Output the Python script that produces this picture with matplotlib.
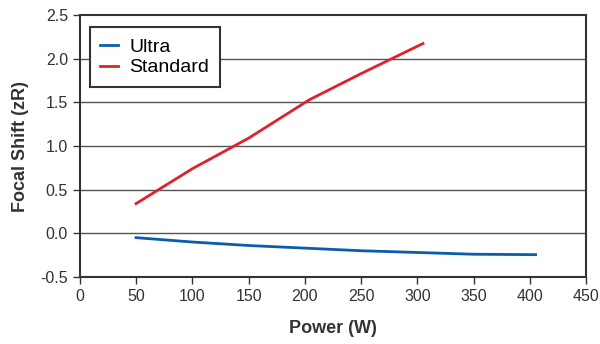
import matplotlib
matplotlib.use('Agg')
import matplotlib.pyplot as plt

plt.rcParams.update({'font.family': ['Liberation Sans', 'DejaVu Sans']})

# data
power_ultra = [50, 100, 150, 200, 250, 300, 350, 405]
shift_ultra = [-0.05, -0.10, -0.14, -0.17, -0.20, -0.22, -0.24, -0.245]
power_std = [50, 100, 150, 204, 250, 305]
shift_std = [0.34, 0.74, 1.09, 1.53, 1.83, 2.175]

xticks = [0, 50, 100, 150, 200, 250, 300, 350, 400, 450]
yticks = [-0.5, 0.0, 0.5, 1.0, 1.5, 2.0, 2.5]

fig = plt.figure(figsize=(6, 3.44), dpi=100)
ax = fig.add_axes([0.133, 0.195, 0.844, 0.761])

for y in yticks[1:-1]:
    ax.axhline(y, color='#555555', lw=1.0, zorder=1)

ax.plot(power_ultra, shift_ultra, color='#0b5cad', lw=2, label='Ultra', zorder=3)
ax.plot(power_std, shift_std, color='#e2202a', lw=2, label='Standard', zorder=3)

ax.set_xlim(0, 450)
ax.set_ylim(-0.5, 2.5)
ax.set_xticks(xticks)
ax.set_yticks(yticks)
ax.set_yticklabels(['%.1f' % v for v in yticks])
ax.tick_params(labelsize=11.5, colors='#333333', direction='out', length=5, width=1)

for s in ax.spines.values():
    s.set_color('#333333')
    s.set_linewidth(1.5)

ax.set_xlabel('Power (W)', fontsize=13, fontweight='bold', color='#333333', labelpad=12)
ax.set_ylabel('Focal Shift (zR)', fontsize=13, fontweight='bold', color='#333333', labelpad=8)

leg = ax.legend(loc='upper left', fontsize=14, fancybox=False, framealpha=1,
                edgecolor='#333333', handlelength=0.9, handletextpad=0.6,
                borderpad=0.55, labelspacing=0.15, bbox_to_anchor=(0.0, 0.99))
leg.get_frame().set_linewidth(1.5)

fig.savefig('out.png', dpi=100)
